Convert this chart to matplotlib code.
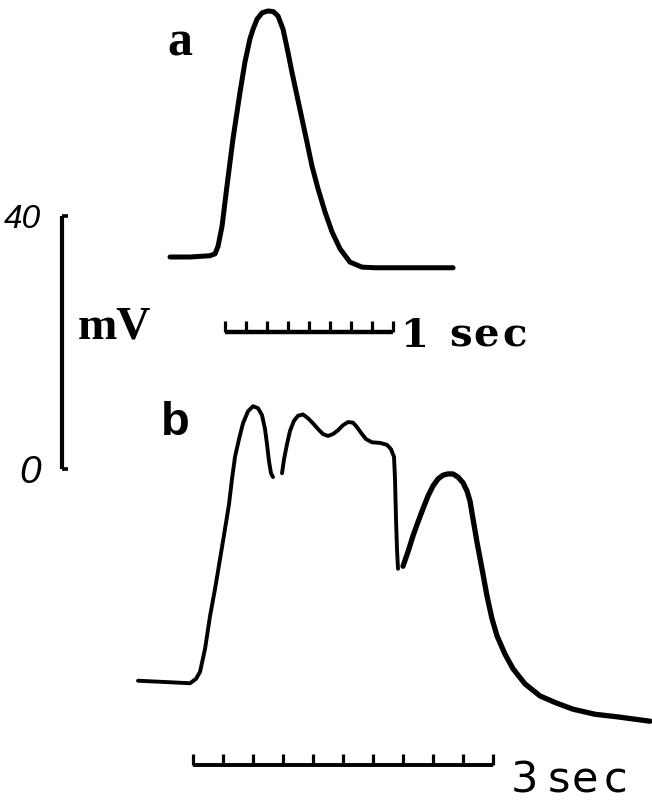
import numpy as np
import matplotlib
matplotlib.use('Agg')
import matplotlib.pyplot as plt

# trace a: time (s), membrane potential (mV above resting level)
t_a = [0.000, 0.119, 0.238, 0.268, 0.286, 0.310, 0.339, 0.375, 0.417, 0.446, 0.476,
       0.494, 0.518, 0.548, 0.583, 0.615, 0.643, 0.673, 0.702, 0.726, 0.756, 0.786,
       0.815, 0.845, 0.881, 0.923, 0.964, 1.012, 1.071, 1.143, 1.220, 1.685]
v_a = [0.0, 0.0, 0.2, 0.5, 1.7, 4.9, 11.2, 18.7, 26.1, 30.8, 34.5,
       36.0, 37.6, 38.6, 38.9, 38.8, 38.1, 36.0, 32.4, 29.2, 25.5, 21.8,
       18.2, 14.4, 10.8, 7.1, 4.0, 1.3, -0.8, -1.6, -1.7, -1.7]

# trace b, drawn in three pieces (pen breaks at the two notches)
t_b1 = [0.00, 0.27, 0.52, 0.58, 0.62, 0.67, 0.72, 0.77, 0.82, 0.87, 0.91, 0.94, 0.97,
        1.01, 1.05, 1.10, 1.15, 1.20, 1.24, 1.27, 1.29, 1.31, 1.33, 1.35]
v_b1 = [0.2, 0.0, -0.2, 0.5, 1.6, 5.2, 10.4, 14.7, 19.4, 24.2, 28.1, 32.1, 35.6,
        38.4, 40.9, 42.8, 43.6, 43.3, 42.2, 40.0, 37.6, 34.9, 33.0, 32.4]
t_b2 = [1.44, 1.46, 1.49, 1.52, 1.56, 1.60, 1.65, 1.70, 1.75, 1.80, 1.85, 1.90, 1.95,
        2.00, 2.05, 2.10, 2.15, 2.19, 2.23, 2.28, 2.34, 2.42, 2.49, 2.53, 2.56, 2.57,
        2.58, 2.59, 2.60]
v_b2 = [33.0, 35.2, 37.6, 39.7, 41.3, 42.1, 42.3, 41.7, 40.9, 40.0, 39.2, 38.9, 39.2,
        39.8, 40.6, 41.1, 41.0, 40.3, 39.4, 38.4, 37.9, 37.8, 37.5, 36.8, 35.6, 32.1,
        25.8, 21.0, 17.9]
t_b3 = [2.65, 2.70, 2.75, 2.80, 2.85, 2.90, 2.95, 3.00, 3.05, 3.10, 3.15, 3.20, 3.25,
        3.29, 3.32, 3.35, 3.39, 3.44, 3.49, 3.54, 3.59, 3.67, 3.75, 3.87, 4.02, 4.18,
        4.35, 4.57, 4.79, 5.12]
v_b3 = [18.3, 20.6, 23.1, 25.3, 27.4, 29.4, 31.0, 32.1, 32.7, 32.9, 32.9, 32.4, 31.5,
        30.2, 28.6, 25.8, 22.1, 17.9, 13.6, 10.0, 7.3, 4.4, 2.1, -0.3, -2.2, -3.3,
        -4.3, -5.1, -5.5, -6.2]

# calibration bars
cal_mv = [0, 40]
bar_a_start, bar_a_len, bar_a_n = 0.327, 1.0, 8     # 1 sec
bar_b_start, bar_b_len, bar_b_n = 0.55, 3.0, 10     # 3 sec

W, H = 652, 803
fig = plt.figure(figsize=(W / 100, H / 100), dpi=100)
fig.patch.set_facecolor('white')


def overlay(x0, y0, sx, sy):
    # axes over the whole figure; (x0, y0) pixel origin, sx/sy pixels per unit
    ax = fig.add_axes([0, 0, 1, 1])
    ax.set_xlim(-x0 / sx, (W - x0) / sx)
    ax.set_ylim((y0 - H) / sy, y0 / sy)
    ax.axis('off')
    ax.patch.set_alpha(0)
    return ax


mv_px = 253 / 40.0
axA = overlay(170, 258, 168, mv_px)
axB = overlay(138, 683, 100, mv_px)
axC = overlay(62, 470, 1, mv_px)

kw = dict(color='black', solid_capstyle='round', solid_joinstyle='round')
axA.plot(t_a, v_a, lw=3.6, **kw)
axB.plot(t_b1, v_b1, lw=2.8, **kw)
axB.plot(t_b2, v_b2, lw=2.8, **kw)
axB.plot(t_b3, v_b3, lw=3.8, **kw)


def time_bar(ax, start, length, n, y, tick, lw):
    ticks = start + np.arange(n + 1) * length / n
    ax.plot([start, start + length], [y, y], color='black', lw=lw, solid_capstyle='butt')
    for x in ticks:
        ax.plot([x, x], [y, y + tick], color='black', lw=2.3, solid_capstyle='butt')


time_bar(axA, bar_a_start, bar_a_len, bar_a_n, -11.9, 1.8, 3.2)
time_bar(axB, bar_b_start, bar_b_len, bar_b_n, -13.1, 1.7, 2.8)

# mV calibration
axC.plot([0, 0], cal_mv, color='black', lw=3.0, solid_capstyle='butt')
for v in cal_mv:
    axC.plot([0, 6], [v, v], color='black', lw=2.6, solid_capstyle='butt')


def ftext(px, py, s, **k):
    fig.text(px / W, 1 - py / H, s, va='baseline', **k)


ftext(167, 55, 'a', family='Liberation Serif', weight='bold', size=36)
ftext(161, 435, 'b', family='Liberation Sans', weight='bold', size=34)
ftext(78, 339, 'mV', family='Liberation Serif', weight='bold', size=34)
ftext(4, 228, '40', family='Liberation Sans', style='italic', size=24)
ftext(19, 483, '0', family='Liberation Sans', style='italic', size=28)

serif = dict(family='DejaVu Serif', weight='bold', size=29)
ftext(400, 347, '1', **serif)
for x, ch in zip([449, 473, 502], 'sec'):
    ftext(x, 347, ch, **serif)

sans = dict(family='DejaVu Sans', size=31)
ftext(511, 793, '3', **sans)
for x, ch in zip([548, 572, 604], 'sec'):
    ftext(x, 793, ch, **sans)

fig.savefig('out.png', dpi=100)
